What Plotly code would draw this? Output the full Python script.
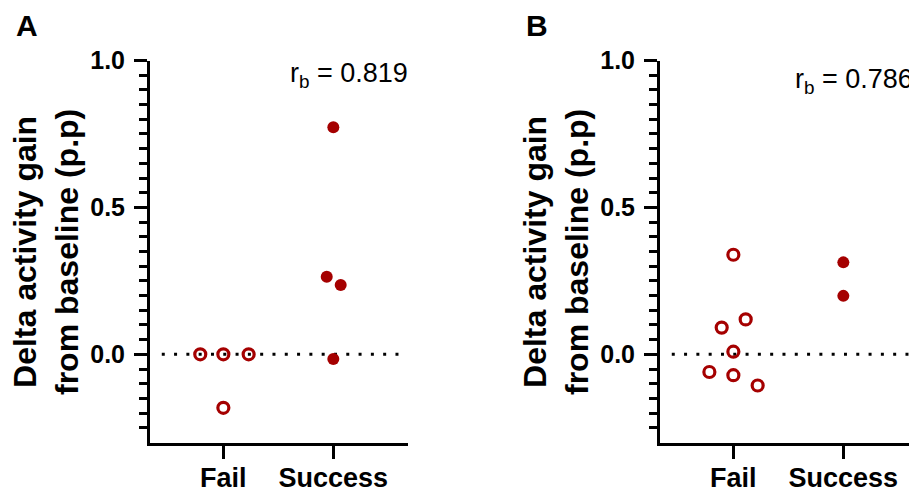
import numpy as np
import plotly.graph_objects as go

# ---- data ----
categories = ["Fail", "Success"]
a_fail = [0.0, 0.0, 0.0, -0.182]
a_fail_jitter = [-0.21, 0.0, 0.23, 0.0]
a_success = [0.773, 0.264, 0.236, -0.016]
a_success_jitter = [0.0, -0.06, 0.067, 0.0]

b_fail = [0.339, 0.091, 0.119, 0.009, -0.060, -0.071, -0.106]
b_fail_jitter = [0.0, -0.106, 0.112, 0.0, -0.218, 0.0, 0.221]
b_success = [0.313, 0.199]
b_success_jitter = [0.0, 0.0]

rb_values = [0.819, 0.786]
panel_labels = ["A", "B"]
y_title = "Delta activity gain<br>from baseline (p.p)"

RED = "#a50000"
FONT = "Liberation Sans, Arial, sans-serif"
W, H = 909, 493

fig = go.Figure()

panels = [
    (a_fail, a_fail_jitter, a_success, a_success_jitter, "x", "y"),
    (b_fail, b_fail_jitter, b_success, b_success_jitter, "x2", "y2"),
]
for fail, fj, succ, sj, xa, ya in panels:
    fig.add_trace(go.Scatter(
        x=[0 + j for j in fj], y=fail, mode="markers", xaxis=xa, yaxis=ya,
        marker=dict(symbol="circle-open", size=11, color=RED, line=dict(width=3.2, color=RED)),
        showlegend=False, cliponaxis=False))
    fig.add_trace(go.Scatter(
        x=[1 + j for j in sj], y=succ, mode="markers", xaxis=xa, yaxis=ya,
        marker=dict(symbol="circle", size=12, color=RED, line=dict(width=0)),
        showlegend=False, cliponaxis=False))
    fig.add_shape(type="line", xref=xa, yref=ya, x0=-0.56, x1=1.65, y0=0, y1=0,
                  line=dict(color="black", width=3, dash="3px,9.3px"), layer="below")

ydom = [50.5 / H, 432.5 / H]
minor_vals = [round(v, 2) for v in np.arange(-0.25, 1.0, 0.05) if abs(v * 2 - round(v * 2)) > 1e-6]

yaxis_common = dict(
    range=[-0.3, 1.0], domain=ydom, showgrid=False, zeroline=False, automargin=False,
    showline=True, linewidth=3, linecolor="black",
    tickmode="array", tickvals=[0, 0.5, 1.0], ticktext=["0.0", "0.5", "1.0"],
    ticks="outside", ticklen=13, tickwidth=3, tickcolor="black", ticklabelstandoff=4,
    tickfont=dict(family=FONT, size=25, color="black", weight="bold"),
    minor=dict(tickmode="array", tickvals=minor_vals, ticks="outside", ticklen=8,
               tickwidth=3, tickcolor="black", showgrid=False),
)
xaxis_common = dict(
    showgrid=False, zeroline=False, showline=True, linewidth=3, linecolor="black",
    automargin=False,
    tickmode="array", tickvals=[0, 1], ticktext=categories,
    ticks="outside", ticklen=13, tickwidth=3, tickcolor="black", ticklabelstandoff=-4,
    tickfont=dict(family=FONT, size=27, color="black", weight="bold"),
)

fig.update_layout(
    width=W, height=H, autosize=False, margin=dict(l=0, r=0, t=0, b=0, pad=0, autoexpand=False),
    paper_bgcolor="white", plot_bgcolor="white",
    xaxis=dict(xaxis_common, domain=[150 / W, 408 / W], range=[-0.667, 1.679], anchor="y"),
    yaxis=dict(yaxis_common, anchor="x"),
    xaxis2=dict(xaxis_common, domain=[660 / W, 1.0], range=[-0.667, 1.597], anchor="y2"),
    yaxis2=dict(yaxis_common, anchor="x2"),
)

offsets = [0, 510]
rb_pos = [(288, 75), (793, 81)]
for i, off in enumerate(offsets):
    fig.add_annotation(text=panel_labels[i], xref="paper", yref="paper",
                       x=(14 + off) / W, y=1 - 7 / H, xanchor="left", yanchor="top",
                       showarrow=False, font=dict(family=FONT, size=30, color="black", weight="bold"))
    fig.add_annotation(text=y_title, xref="paper", yref="paper", textangle=-90,
                       x=(46 + off) / W, y=1 - 252 / H, xanchor="center", yanchor="middle",
                       showarrow=False, font=dict(family=FONT, size=32, color="black", weight="bold"))
    fig.add_annotation(text="r<sub>b</sub> = %.3f" % rb_values[i], xref="paper", yref="paper",
                       x=rb_pos[i][0] / W, y=1 - rb_pos[i][1] / H, xanchor="left", yanchor="middle",
                       showarrow=False, font=dict(family=FONT, size=27, color="black"))

fig.write_html("out.html", config={"displayModeBar": False, "responsive": False},
               default_width="909px", default_height="493px",
               post_script="document.body.style.margin='0';")
